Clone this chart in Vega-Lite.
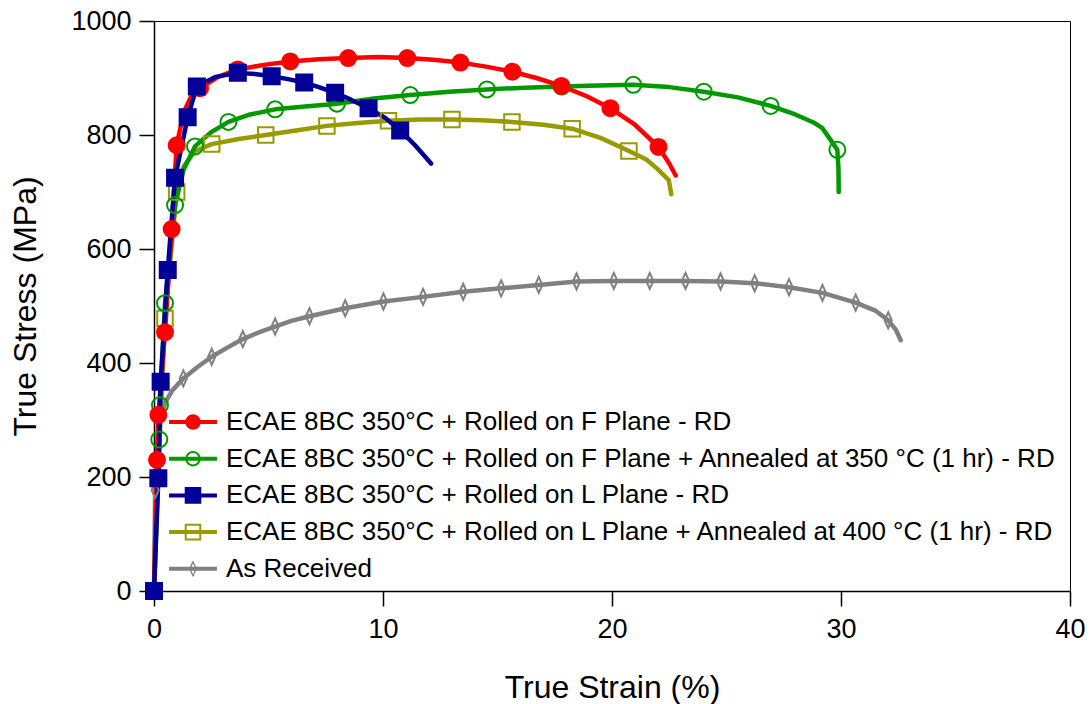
{
  "$schema": "https://vega.github.io/schema/vega-lite/v6.json",
  "width": 916,
  "height": 570,
  "autosize": {"type": "none"},
  "padding": {"left": 154, "top": 21, "right": 21, "bottom": 113},
  "background": "white",
  "config": {
    "font": "Liberation Sans",
    "view": {"stroke": "#000000", "strokeWidth": 1}
  },
  "data": {
    "values": [
      {"series": "As Received", "strain": 0, "stress": 0, "marker": 0},
      {"series": "As Received", "strain": 0.05, "stress": 177, "marker": 1},
      {"series": "As Received", "strain": 0.2, "stress": 290, "marker": 0},
      {"series": "As Received", "strain": 0.48, "stress": 330, "marker": 0},
      {"series": "As Received", "strain": 0.8, "stress": 352, "marker": 0},
      {"series": "As Received", "strain": 1.28, "stress": 373, "marker": 1},
      {"series": "As Received", "strain": 1.9, "stress": 393, "marker": 0},
      {"series": "As Received", "strain": 2.52, "stress": 411, "marker": 1},
      {"series": "As Received", "strain": 3.2, "stress": 427, "marker": 0},
      {"series": "As Received", "strain": 3.88, "stress": 442, "marker": 1},
      {"series": "As Received", "strain": 4.6, "stress": 454, "marker": 0},
      {"series": "As Received", "strain": 5.29, "stress": 464, "marker": 1},
      {"series": "As Received", "strain": 6.0, "stress": 474, "marker": 0},
      {"series": "As Received", "strain": 6.79, "stress": 482, "marker": 1},
      {"series": "As Received", "strain": 8.35, "stress": 496, "marker": 1},
      {"series": "As Received", "strain": 10.02, "stress": 508, "marker": 1},
      {"series": "As Received", "strain": 11.75, "stress": 516, "marker": 1},
      {"series": "As Received", "strain": 13.5, "stress": 525, "marker": 1},
      {"series": "As Received", "strain": 15.16, "stress": 531, "marker": 1},
      {"series": "As Received", "strain": 16.8, "stress": 537, "marker": 1},
      {"series": "As Received", "strain": 18.45, "stress": 543, "marker": 1},
      {"series": "As Received", "strain": 20.08, "stress": 544, "marker": 1},
      {"series": "As Received", "strain": 21.65, "stress": 544, "marker": 1},
      {"series": "As Received", "strain": 23.21, "stress": 544, "marker": 1},
      {"series": "As Received", "strain": 24.74, "stress": 543, "marker": 1},
      {"series": "As Received", "strain": 26.23, "stress": 540, "marker": 1},
      {"series": "As Received", "strain": 27.73, "stress": 533, "marker": 1},
      {"series": "As Received", "strain": 29.19, "stress": 523, "marker": 1},
      {"series": "As Received", "strain": 30.64, "stress": 506, "marker": 1},
      {"series": "As Received", "strain": 31.5, "stress": 492, "marker": 0},
      {"series": "As Received", "strain": 32.06, "stress": 475, "marker": 1},
      {"series": "As Received", "strain": 32.4, "stress": 458, "marker": 0},
      {"series": "As Received", "strain": 32.61, "stress": 440, "marker": 0},

      {"series": "ECAE 8BC 350°C + Rolled on L Plane + Annealed at 400 °C (1 hr) - RD", "strain": 0, "stress": 0, "marker": 1},
      {"series": "ECAE 8BC 350°C + Rolled on L Plane + Annealed at 400 °C (1 hr) - RD", "strain": 0.2, "stress": 220, "marker": 0},
      {"series": "ECAE 8BC 350°C + Rolled on L Plane + Annealed at 400 °C (1 hr) - RD", "strain": 0.48, "stress": 478, "marker": 1},
      {"series": "ECAE 8BC 350°C + Rolled on L Plane + Annealed at 400 °C (1 hr) - RD", "strain": 0.99, "stress": 700, "marker": 1},
      {"series": "ECAE 8BC 350°C + Rolled on L Plane + Annealed at 400 °C (1 hr) - RD", "strain": 1.3, "stress": 745, "marker": 0},
      {"series": "ECAE 8BC 350°C + Rolled on L Plane + Annealed at 400 °C (1 hr) - RD", "strain": 1.8, "stress": 772, "marker": 0},
      {"series": "ECAE 8BC 350°C + Rolled on L Plane + Annealed at 400 °C (1 hr) - RD", "strain": 2.52, "stress": 784, "marker": 1},
      {"series": "ECAE 8BC 350°C + Rolled on L Plane + Annealed at 400 °C (1 hr) - RD", "strain": 3.7, "stress": 793, "marker": 0},
      {"series": "ECAE 8BC 350°C + Rolled on L Plane + Annealed at 400 °C (1 hr) - RD", "strain": 4.88, "stress": 800, "marker": 1},
      {"series": "ECAE 8BC 350°C + Rolled on L Plane + Annealed at 400 °C (1 hr) - RD", "strain": 6.2, "stress": 808, "marker": 0},
      {"series": "ECAE 8BC 350°C + Rolled on L Plane + Annealed at 400 °C (1 hr) - RD", "strain": 7.55, "stress": 816, "marker": 1},
      {"series": "ECAE 8BC 350°C + Rolled on L Plane + Annealed at 400 °C (1 hr) - RD", "strain": 8.9, "stress": 821, "marker": 0},
      {"series": "ECAE 8BC 350°C + Rolled on L Plane + Annealed at 400 °C (1 hr) - RD", "strain": 10.24, "stress": 825, "marker": 1},
      {"series": "ECAE 8BC 350°C + Rolled on L Plane + Annealed at 400 °C (1 hr) - RD", "strain": 11.6, "stress": 827, "marker": 0},
      {"series": "ECAE 8BC 350°C + Rolled on L Plane + Annealed at 400 °C (1 hr) - RD", "strain": 13.01, "stress": 827, "marker": 1},
      {"series": "ECAE 8BC 350°C + Rolled on L Plane + Annealed at 400 °C (1 hr) - RD", "strain": 14.3, "stress": 826, "marker": 0},
      {"series": "ECAE 8BC 350°C + Rolled on L Plane + Annealed at 400 °C (1 hr) - RD", "strain": 15.63, "stress": 823, "marker": 1},
      {"series": "ECAE 8BC 350°C + Rolled on L Plane + Annealed at 400 °C (1 hr) - RD", "strain": 17.0, "stress": 818, "marker": 0},
      {"series": "ECAE 8BC 350°C + Rolled on L Plane + Annealed at 400 °C (1 hr) - RD", "strain": 18.26, "stress": 811, "marker": 1},
      {"series": "ECAE 8BC 350°C + Rolled on L Plane + Annealed at 400 °C (1 hr) - RD", "strain": 19.5, "stress": 795, "marker": 0},
      {"series": "ECAE 8BC 350°C + Rolled on L Plane + Annealed at 400 °C (1 hr) - RD", "strain": 20.74, "stress": 772, "marker": 1},
      {"series": "ECAE 8BC 350°C + Rolled on L Plane + Annealed at 400 °C (1 hr) - RD", "strain": 21.5, "stress": 757, "marker": 0},
      {"series": "ECAE 8BC 350°C + Rolled on L Plane + Annealed at 400 °C (1 hr) - RD", "strain": 21.97, "stress": 741, "marker": 0},
      {"series": "ECAE 8BC 350°C + Rolled on L Plane + Annealed at 400 °C (1 hr) - RD", "strain": 22.48, "stress": 721, "marker": 0},
      {"series": "ECAE 8BC 350°C + Rolled on L Plane + Annealed at 400 °C (1 hr) - RD", "strain": 22.59, "stress": 696, "marker": 0},

      {"series": "ECAE 8BC 350°C + Rolled on F Plane + Annealed at 350 °C (1 hr) - RD", "strain": 0, "stress": 0, "marker": 1},
      {"series": "ECAE 8BC 350°C + Rolled on F Plane + Annealed at 350 °C (1 hr) - RD", "strain": 0.23, "stress": 266, "marker": 1},
      {"series": "ECAE 8BC 350°C + Rolled on F Plane + Annealed at 350 °C (1 hr) - RD", "strain": 0.26, "stress": 326, "marker": 1},
      {"series": "ECAE 8BC 350°C + Rolled on F Plane + Annealed at 350 °C (1 hr) - RD", "strain": 0.48, "stress": 505, "marker": 1},
      {"series": "ECAE 8BC 350°C + Rolled on F Plane + Annealed at 350 °C (1 hr) - RD", "strain": 0.92, "stress": 677, "marker": 1},
      {"series": "ECAE 8BC 350°C + Rolled on F Plane + Annealed at 350 °C (1 hr) - RD", "strain": 1.3, "stress": 740, "marker": 0},
      {"series": "ECAE 8BC 350°C + Rolled on F Plane + Annealed at 350 °C (1 hr) - RD", "strain": 1.79, "stress": 780, "marker": 1},
      {"series": "ECAE 8BC 350°C + Rolled on F Plane + Annealed at 350 °C (1 hr) - RD", "strain": 2.5, "stress": 805, "marker": 0},
      {"series": "ECAE 8BC 350°C + Rolled on F Plane + Annealed at 350 °C (1 hr) - RD", "strain": 3.25, "stress": 823, "marker": 1},
      {"series": "ECAE 8BC 350°C + Rolled on F Plane + Annealed at 350 °C (1 hr) - RD", "strain": 4.2, "stress": 836, "marker": 0},
      {"series": "ECAE 8BC 350°C + Rolled on F Plane + Annealed at 350 °C (1 hr) - RD", "strain": 5.29, "stress": 845, "marker": 1},
      {"series": "ECAE 8BC 350°C + Rolled on F Plane + Annealed at 350 °C (1 hr) - RD", "strain": 6.6, "stress": 850, "marker": 0},
      {"series": "ECAE 8BC 350°C + Rolled on F Plane + Annealed at 350 °C (1 hr) - RD", "strain": 7.99, "stress": 855, "marker": 1},
      {"series": "ECAE 8BC 350°C + Rolled on F Plane + Annealed at 350 °C (1 hr) - RD", "strain": 9.6, "stress": 864, "marker": 0},
      {"series": "ECAE 8BC 350°C + Rolled on F Plane + Annealed at 350 °C (1 hr) - RD", "strain": 11.19, "stress": 870, "marker": 1},
      {"series": "ECAE 8BC 350°C + Rolled on F Plane + Annealed at 350 °C (1 hr) - RD", "strain": 12.9, "stress": 876, "marker": 0},
      {"series": "ECAE 8BC 350°C + Rolled on F Plane + Annealed at 350 °C (1 hr) - RD", "strain": 14.54, "stress": 880, "marker": 1},
      {"series": "ECAE 8BC 350°C + Rolled on F Plane + Annealed at 350 °C (1 hr) - RD", "strain": 16.2, "stress": 883, "marker": 0},
      {"series": "ECAE 8BC 350°C + Rolled on F Plane + Annealed at 350 °C (1 hr) - RD", "strain": 17.8, "stress": 885, "marker": 1},
      {"series": "ECAE 8BC 350°C + Rolled on F Plane + Annealed at 350 °C (1 hr) - RD", "strain": 19.4, "stress": 887, "marker": 0},
      {"series": "ECAE 8BC 350°C + Rolled on F Plane + Annealed at 350 °C (1 hr) - RD", "strain": 20.93, "stress": 888, "marker": 1},
      {"series": "ECAE 8BC 350°C + Rolled on F Plane + Annealed at 350 °C (1 hr) - RD", "strain": 22.5, "stress": 884, "marker": 0},
      {"series": "ECAE 8BC 350°C + Rolled on F Plane + Annealed at 350 °C (1 hr) - RD", "strain": 24.01, "stress": 876, "marker": 1},
      {"series": "ECAE 8BC 350°C + Rolled on F Plane + Annealed at 350 °C (1 hr) - RD", "strain": 25.5, "stress": 866, "marker": 0},
      {"series": "ECAE 8BC 350°C + Rolled on F Plane + Annealed at 350 °C (1 hr) - RD", "strain": 26.93, "stress": 851, "marker": 1},
      {"series": "ECAE 8BC 350°C + Rolled on F Plane + Annealed at 350 °C (1 hr) - RD", "strain": 28.0, "stress": 836, "marker": 0},
      {"series": "ECAE 8BC 350°C + Rolled on F Plane + Annealed at 350 °C (1 hr) - RD", "strain": 28.8, "stress": 822, "marker": 0},
      {"series": "ECAE 8BC 350°C + Rolled on F Plane + Annealed at 350 °C (1 hr) - RD", "strain": 29.19, "stress": 812, "marker": 0},
      {"series": "ECAE 8BC 350°C + Rolled on F Plane + Annealed at 350 °C (1 hr) - RD", "strain": 29.55, "stress": 791, "marker": 0},
      {"series": "ECAE 8BC 350°C + Rolled on F Plane + Annealed at 350 °C (1 hr) - RD", "strain": 29.84, "stress": 774, "marker": 1},
      {"series": "ECAE 8BC 350°C + Rolled on F Plane + Annealed at 350 °C (1 hr) - RD", "strain": 29.89, "stress": 740, "marker": 0},
      {"series": "ECAE 8BC 350°C + Rolled on F Plane + Annealed at 350 °C (1 hr) - RD", "strain": 29.9, "stress": 700, "marker": 0},

      {"series": "ECAE 8BC 350°C + Rolled on F Plane - RD", "strain": 0, "stress": 0, "marker": 1},
      {"series": "ECAE 8BC 350°C + Rolled on F Plane - RD", "strain": 0.13, "stress": 230, "marker": 1},
      {"series": "ECAE 8BC 350°C + Rolled on F Plane - RD", "strain": 0.19, "stress": 309, "marker": 1},
      {"series": "ECAE 8BC 350°C + Rolled on F Plane - RD", "strain": 0.48, "stress": 454, "marker": 1},
      {"series": "ECAE 8BC 350°C + Rolled on F Plane - RD", "strain": 0.77, "stress": 635, "marker": 1},
      {"series": "ECAE 8BC 350°C + Rolled on F Plane - RD", "strain": 0.99, "stress": 782, "marker": 1},
      {"series": "ECAE 8BC 350°C + Rolled on F Plane - RD", "strain": 1.3, "stress": 840, "marker": 0},
      {"series": "ECAE 8BC 350°C + Rolled on F Plane - RD", "strain": 1.6, "stress": 866, "marker": 0},
      {"series": "ECAE 8BC 350°C + Rolled on F Plane - RD", "strain": 2.01, "stress": 882, "marker": 1},
      {"series": "ECAE 8BC 350°C + Rolled on F Plane - RD", "strain": 2.8, "stress": 902, "marker": 0},
      {"series": "ECAE 8BC 350°C + Rolled on F Plane - RD", "strain": 3.66, "stress": 915, "marker": 1},
      {"series": "ECAE 8BC 350°C + Rolled on F Plane - RD", "strain": 4.8, "stress": 923, "marker": 0},
      {"series": "ECAE 8BC 350°C + Rolled on F Plane - RD", "strain": 5.95, "stress": 929, "marker": 1},
      {"series": "ECAE 8BC 350°C + Rolled on F Plane - RD", "strain": 7.2, "stress": 933, "marker": 0},
      {"series": "ECAE 8BC 350°C + Rolled on F Plane - RD", "strain": 8.48, "stress": 935, "marker": 1},
      {"series": "ECAE 8BC 350°C + Rolled on F Plane - RD", "strain": 9.8, "stress": 937, "marker": 0},
      {"series": "ECAE 8BC 350°C + Rolled on F Plane - RD", "strain": 11.06, "stress": 935, "marker": 1},
      {"series": "ECAE 8BC 350°C + Rolled on F Plane - RD", "strain": 12.2, "stress": 932, "marker": 0},
      {"series": "ECAE 8BC 350°C + Rolled on F Plane - RD", "strain": 13.38, "stress": 927, "marker": 1},
      {"series": "ECAE 8BC 350°C + Rolled on F Plane - RD", "strain": 14.5, "stress": 920, "marker": 0},
      {"series": "ECAE 8BC 350°C + Rolled on F Plane - RD", "strain": 15.65, "stress": 911, "marker": 1},
      {"series": "ECAE 8BC 350°C + Rolled on F Plane - RD", "strain": 16.7, "stress": 900, "marker": 0},
      {"series": "ECAE 8BC 350°C + Rolled on F Plane - RD", "strain": 17.79, "stress": 886, "marker": 1},
      {"series": "ECAE 8BC 350°C + Rolled on F Plane - RD", "strain": 18.9, "stress": 868, "marker": 0},
      {"series": "ECAE 8BC 350°C + Rolled on F Plane - RD", "strain": 19.93, "stress": 847, "marker": 1},
      {"series": "ECAE 8BC 350°C + Rolled on F Plane - RD", "strain": 21.0, "stress": 818, "marker": 0},
      {"series": "ECAE 8BC 350°C + Rolled on F Plane - RD", "strain": 22.03, "stress": 779, "marker": 1},
      {"series": "ECAE 8BC 350°C + Rolled on F Plane - RD", "strain": 22.5, "stress": 750, "marker": 0},
      {"series": "ECAE 8BC 350°C + Rolled on F Plane - RD", "strain": 22.78, "stress": 729, "marker": 0},

      {"series": "ECAE 8BC 350°C + Rolled on L Plane - RD", "strain": 0, "stress": 0, "marker": 1},
      {"series": "ECAE 8BC 350°C + Rolled on L Plane - RD", "strain": 0.19, "stress": 198, "marker": 1},
      {"series": "ECAE 8BC 350°C + Rolled on L Plane - RD", "strain": 0.29, "stress": 367, "marker": 1},
      {"series": "ECAE 8BC 350°C + Rolled on L Plane - RD", "strain": 0.6, "stress": 563, "marker": 1},
      {"series": "ECAE 8BC 350°C + Rolled on L Plane - RD", "strain": 0.92, "stress": 725, "marker": 1},
      {"series": "ECAE 8BC 350°C + Rolled on L Plane - RD", "strain": 1.47, "stress": 831, "marker": 1},
      {"series": "ECAE 8BC 350°C + Rolled on L Plane - RD", "strain": 1.87, "stress": 885, "marker": 1},
      {"series": "ECAE 8BC 350°C + Rolled on L Plane - RD", "strain": 2.7, "stress": 902, "marker": 0},
      {"series": "ECAE 8BC 350°C + Rolled on L Plane - RD", "strain": 3.66, "stress": 909, "marker": 1},
      {"series": "ECAE 8BC 350°C + Rolled on L Plane - RD", "strain": 4.4, "stress": 907, "marker": 0},
      {"series": "ECAE 8BC 350°C + Rolled on L Plane - RD", "strain": 5.14, "stress": 903, "marker": 1},
      {"series": "ECAE 8BC 350°C + Rolled on L Plane - RD", "strain": 5.85, "stress": 898, "marker": 0},
      {"series": "ECAE 8BC 350°C + Rolled on L Plane - RD", "strain": 6.56, "stress": 892, "marker": 1},
      {"series": "ECAE 8BC 350°C + Rolled on L Plane - RD", "strain": 7.2, "stress": 884, "marker": 0},
      {"series": "ECAE 8BC 350°C + Rolled on L Plane - RD", "strain": 7.91, "stress": 874, "marker": 1},
      {"series": "ECAE 8BC 350°C + Rolled on L Plane - RD", "strain": 8.6, "stress": 862, "marker": 0},
      {"series": "ECAE 8BC 350°C + Rolled on L Plane - RD", "strain": 9.37, "stress": 847, "marker": 1},
      {"series": "ECAE 8BC 350°C + Rolled on L Plane - RD", "strain": 10.1, "stress": 830, "marker": 0},
      {"series": "ECAE 8BC 350°C + Rolled on L Plane - RD", "strain": 10.75, "stress": 808, "marker": 1},
      {"series": "ECAE 8BC 350°C + Rolled on L Plane - RD", "strain": 11.4, "stress": 782, "marker": 0},
      {"series": "ECAE 8BC 350°C + Rolled on L Plane - RD", "strain": 12.1, "stress": 750, "marker": 0}
    ]
  },
  "encoding": {
    "x": {
      "field": "strain", "type": "quantitative",
      "scale": {"domain": [0, 40], "nice": false, "zero": false},
      "axis": {
        "title": "True Strain (%)",
        "values": [0, 10, 20, 30, 40],
        "format": "d",
        "grid": false,
        "domainColor": "#000000", "domainWidth": 1.5,
        "tickColor": "#000000", "tickSize": 15, "tickWidth": 1.5,
        "labelFont": "Liberation Sans", "labelFontSize": 27, "labelColor": "#000000", "labelPadding": 10,
        "labelFlush": false,
        "titleFont": "Liberation Sans", "titleFontSize": 32, "titleFontWeight": "normal", "titleColor": "#000000", "titlePadding": 30
      }
    },
    "y": {
      "field": "stress", "type": "quantitative",
      "scale": {"domain": [0, 1000], "nice": false},
      "axis": {
        "title": "True Stress (MPa)",
        "values": [0, 200, 400, 600, 800, 1000],
        "format": "d",
        "grid": false,
        "domainColor": "#000000", "domainWidth": 1.5,
        "tickColor": "#000000", "tickSize": 15, "tickWidth": 1.5,
        "labelFont": "Liberation Sans", "labelFontSize": 27, "labelColor": "#000000", "labelPadding": 8,
        "labelFlush": false,
        "titleFont": "Liberation Sans", "titleFontSize": 32, "titleFontWeight": "normal", "titleColor": "#000000", "titlePadding": 28
      }
    }
  },
  "layer": [
    {
      "mark": {"type": "line", "strokeWidth": 4.5, "strokeCap": "round", "strokeJoin": "round"},
      "encoding": {
        "stroke": {
          "field": "series", "type": "nominal",
          "scale": {
            "domain": [
              "As Received",
              "ECAE 8BC 350°C + Rolled on L Plane + Annealed at 400 °C (1 hr) - RD",
              "ECAE 8BC 350°C + Rolled on L Plane - RD",
              "ECAE 8BC 350°C + Rolled on F Plane + Annealed at 350 °C (1 hr) - RD",
              "ECAE 8BC 350°C + Rolled on F Plane - RD"
            ],
            "range": ["#808080", "#999900", "#000099", "#009900", "#FF0000"]
          },
          "legend": null
        }
      }
    },
    {
      "transform": [{"filter": "datum.marker == 1 && datum.series == 'As Received'"}],
      "mark": {"type": "point", "shape": "M0,-1L0.45,0L0,1L-0.45,0Z", "size": 256, "filled": false, "stroke": "#808080", "strokeWidth": 2, "opacity": 1}
    },
    {
      "transform": [{"filter": "datum.marker == 1 && datum.series == 'ECAE 8BC 350°C + Rolled on L Plane + Annealed at 400 °C (1 hr) - RD'"}],
      "mark": {"type": "point", "shape": "square", "size": 240, "filled": false, "stroke": "#999900", "strokeWidth": 2, "opacity": 1}
    },
    {
      "transform": [{"filter": "datum.marker == 1 && datum.series == 'ECAE 8BC 350°C + Rolled on F Plane + Annealed at 350 °C (1 hr) - RD'"}],
      "mark": {"type": "point", "shape": "circle", "size": 256, "filled": false, "stroke": "#009900", "strokeWidth": 2, "opacity": 1}
    },
    {
      "transform": [{"filter": "datum.marker == 1 && datum.series == 'ECAE 8BC 350°C + Rolled on F Plane - RD'"}],
      "mark": {"type": "point", "shape": "circle", "size": 256, "filled": true, "fill": "#FF0000", "stroke": "#FF0000", "strokeWidth": 2, "opacity": 1}
    },
    {
      "transform": [{"filter": "datum.marker == 1 && datum.series == 'ECAE 8BC 350°C + Rolled on L Plane - RD'"}],
      "mark": {"type": "point", "shape": "square", "size": 256, "filled": true, "fill": "#000099", "stroke": "#000099", "strokeWidth": 2, "opacity": 1}
    },
    {
      "transform": [{"filter": "false"}],
      "mark": {"type": "point", "filled": true, "opacity": 1},
      "encoding": {
        "shape": {
          "field": "series", "type": "nominal",
          "scale": {
            "domain": [
              "ECAE 8BC 350°C + Rolled on F Plane - RD",
              "ECAE 8BC 350°C + Rolled on F Plane + Annealed at 350 °C (1 hr) - RD",
              "ECAE 8BC 350°C + Rolled on L Plane - RD",
              "ECAE 8BC 350°C + Rolled on L Plane + Annealed at 400 °C (1 hr) - RD",
              "As Received"
            ],
            "range": [
              "M-1.33,-0.11H1.33V0.11H-1.33ZM0.43,0L0.397,0.165L0.304,0.304L0.165,0.397L0,0.43L-0.165,0.397L-0.304,0.304L-0.397,0.165L-0.43,0L-0.397,-0.165L-0.304,-0.304L-0.165,-0.397L0,-0.43L0.165,-0.397L0.304,-0.304L0.397,-0.165Z",
              "M-1.33,-0.11H1.33V0.11H-1.33ZM0.43,0L0.397,0.165L0.304,0.304L0.165,0.397L0,0.43L-0.165,0.397L-0.304,0.304L-0.397,0.165L-0.43,0L-0.397,-0.165L-0.304,-0.304L-0.165,-0.397L0,-0.43L0.165,-0.397L0.304,-0.304L0.397,-0.165ZM0.32,0L0.296,-0.122L0.226,-0.226L0.122,-0.296L0,-0.32L-0.122,-0.296L-0.226,-0.226L-0.296,-0.122L-0.32,0L-0.296,0.122L-0.226,0.226L-0.122,0.296L0,0.32L0.122,0.296L0.226,0.226L0.296,0.122Z",
              "M-1.33,-0.11H1.33V0.11H-1.33ZM-0.46,-0.46H0.46V0.46H-0.46Z",
              "M-1.33,-0.11H1.33V0.11H-1.33ZM-0.46,-0.46H0.46V0.46H-0.46ZM-0.35,-0.35V0.35H0.35V-0.35Z",
              "M-1.33,-0.11H1.33V0.11H-1.33ZM0,-0.47L0.22,0L0,0.47L-0.22,0ZM0,-0.31L-0.12,0L0,0.31L0.12,0Z"
            ]
          },
          "legend": {
            "title": null,
            "orient": "none",
            "legendX": 21,
            "legendY": 383,
            "padding": 0,
            "symbolSize": 1296,
            "symbolStrokeWidth": 0,
            "symbolStrokeColor": "transparent",
            "labelFont": "Liberation Sans",
            "labelFontSize": 26,
            "labelColor": "#000000",
            "labelOffset": 15,
            "labelLimit": 0,
            "rowPadding": 5.7,
            "labelExpr": "datum.label == 'As Received' ? '\u00a0As Received' : datum.label"
          }
        },
        "fill": {
          "field": "series", "type": "nominal",
          "scale": {
            "domain": [
              "ECAE 8BC 350°C + Rolled on F Plane - RD",
              "ECAE 8BC 350°C + Rolled on F Plane + Annealed at 350 °C (1 hr) - RD",
              "ECAE 8BC 350°C + Rolled on L Plane - RD",
              "ECAE 8BC 350°C + Rolled on L Plane + Annealed at 400 °C (1 hr) - RD",
              "As Received"
            ],
            "range": ["#FF0000", "#009900", "#000099", "#999900", "#808080"]
          },
          "legend": {
            "title": null,
            "orient": "none",
            "legendX": 21,
            "legendY": 383,
            "padding": 0,
            "symbolSize": 1296,
            "symbolStrokeWidth": 0,
            "symbolStrokeColor": "transparent",
            "labelFont": "Liberation Sans",
            "labelFontSize": 26,
            "labelColor": "#000000",
            "labelOffset": 15,
            "labelLimit": 0,
            "rowPadding": 5.7,
            "labelExpr": "datum.label == 'As Received' ? '\u00a0As Received' : datum.label"
          }
        }
      }
    }
  ]
}
